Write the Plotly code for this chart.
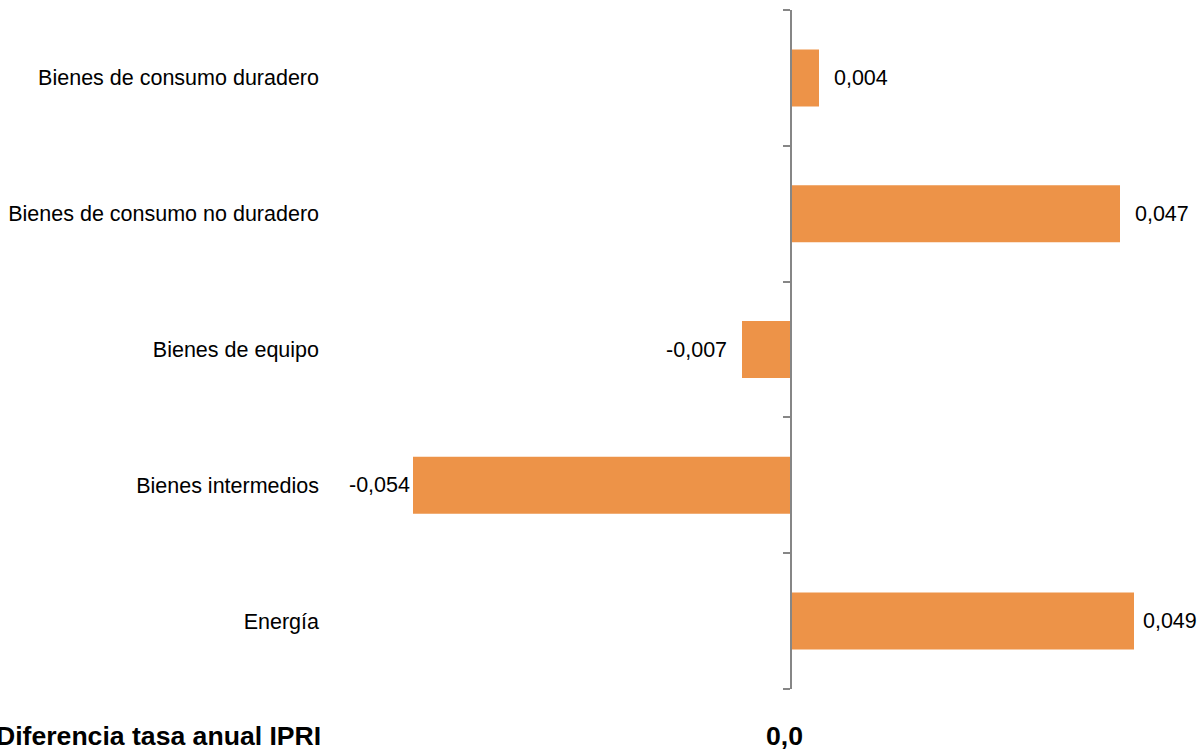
import plotly.graph_objects as go

categories = ["Bienes de consumo duradero", "Bienes de consumo no duradero",
              "Bienes de equipo", "Bienes intermedios", "Energía"]
values = [0.004, 0.047, -0.007, -0.054, 0.049]
value_labels = ["0,004", "0,047", "-0,007", "-0,054", "0,049"]
footer_label = "Diferencia tasa anual IPRI"
footer_value = "0,0"

# spacing between bar end and its label (non-breaking spaces)
NB = "\u00a0"
label_pad = [2, 2, 2, 0, 1]
display_labels = []
for v, t, p in zip(values, value_labels, label_pad):
    display_labels.append(NB * p + t if v >= 0 else t + NB * p)

W, H = 1204, 751
L, R, T, B = 330, 4, 10, 62
zero_px = 791
px_per_unit = 7000.0
xmin = -(zero_px - L) / px_per_unit
xmax = (W - R - zero_px) / px_per_unit
zero_pos = (zero_px - L) / (W - L - R)
PW = W - L - R
PH = H - T - B

FONT = "Liberation Sans, Arial, sans-serif"

fig = go.Figure()
fig.add_trace(go.Bar(
    y=categories, x=values, orientation="h",
    marker=dict(color="#ED9348", line=dict(width=0)),
    width=0.42,
    text=display_labels, textposition="outside", constraintext="none",
    textfont=dict(family=FONT, size=21.5, color="#000000"),
    cliponaxis=False, hoverinfo="skip",
))
# invisible trace to host the axis-line/tick axis at x=0
fig.add_trace(go.Scatter(x=[None], y=[None], yaxis="y2", showlegend=False, hoverinfo="skip"))

footer_y = -(736 - (H - B)) / PH
fig.update_layout(
    width=W, height=H,
    margin=dict(l=L, r=R, t=T, b=B),
    paper_bgcolor="white", plot_bgcolor="white",
    showlegend=False,
    xaxis=dict(range=[xmin, xmax], showgrid=False, zeroline=False,
               showticklabels=False, ticks="", showline=False),
    yaxis=dict(categoryorder="array", categoryarray=categories[::-1],
               range=[-0.5, len(categories) - 0.5],
               showgrid=False, zeroline=False, showline=False, ticks="",
               tickfont=dict(family=FONT, size=21.5, color="#000000"),
               ticklabelstandoff=10),
    yaxis2=dict(overlaying="y", anchor="free", position=zero_pos, side="left",
                range=[-0.5, len(categories) - 0.5], type="linear",
                tickmode="array",
                tickvals=[i - 0.5 for i in range(len(categories) + 1)],
                showticklabels=False, ticks="outside", ticklen=7,
                tickcolor="#868686", tickwidth=1.5,
                showline=True, linecolor="#868686", linewidth=2,
                showgrid=False, zeroline=False),
    annotations=[
        dict(text="<b>" + footer_label + "</b>", xref="paper", yref="paper",
             x=(-6 - L) / PW, y=footer_y,
             xanchor="left", yanchor="middle", showarrow=False,
             font=dict(family=FONT, size=26.6, color="#000000")),
        dict(text="<b>" + footer_value + "</b>", xref="paper", yref="paper",
             x=(784 - L) / PW, y=footer_y,
             xanchor="center", yanchor="middle", showarrow=False,
             font=dict(family=FONT, size=26.6, color="#000000")),
    ],
)

fig.write_html("out.html",
               config={"displayModeBar": False},
               post_script="document.body.style.margin='0';document.body.style.overflow='hidden';")
